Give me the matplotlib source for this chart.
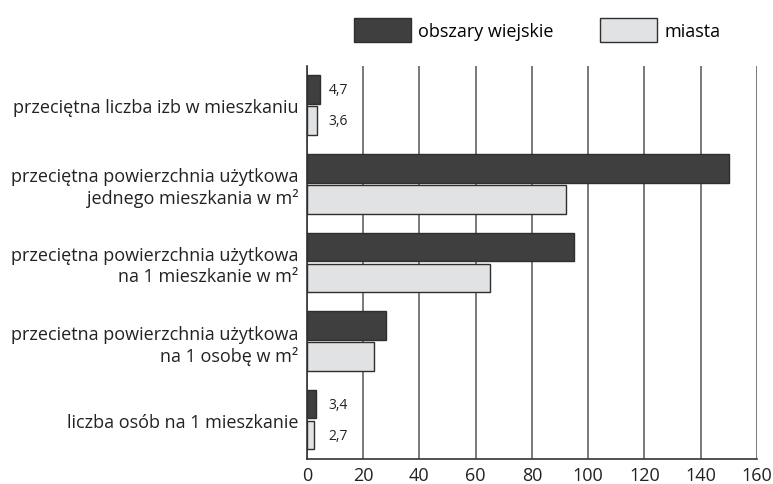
import matplotlib
matplotlib.use("Agg")
import matplotlib.pyplot as plt
from matplotlib.patches import Patch
import numpy as np

# ─── data ─────────────────────────────────────────────────────────
categories = [
    "przeciętna liczba izb w mieszkaniu",
    "przeciętna powierzchnia użytkowa\njednego mieszkania w m²",
    "przeciętna powierzchnia użytkowa\nna 1 mieszkanie w m²",
    "przecietna powierzchnia użytkowa\nna 1 osobę w m²",
    "liczba osób na 1 mieszkanie",
]
rural = [4.7, 150, 95, 28, 3.4]
urban = [3.6, 92, 65, 24, 2.7]
rural_labels = ["4,7", None, None, None, "3,4"]
urban_labels = ["3,6", None, None, None, "2,7"]
series_names = ["obszary wiejskie", "miasta"]
xticks = [0, 20, 40, 60, 80, 100, 120, 140, 160]

DARK = "#3f3f3f"
LIGHT = "#e1e2e4"
EDGE = "#2e2e2e"
LABEL_X = 7.8

plt.rcParams["font.family"] = ["Open Sans", "DejaVu Sans"]

fig = plt.figure(figsize=(7.73, 4.85), dpi=100)
ax = fig.add_axes([0.397, 0.0515, 0.582, 0.8105])

y = np.arange(len(categories))
h = 0.363
off = 0.197

ax.barh(y - off, rural, height=h, color=DARK, edgecolor=EDGE, linewidth=1, zorder=3)
ax.barh(y + off, urban, height=h, color=LIGHT, edgecolor=EDGE, linewidth=1, zorder=3)

for yi, lab in zip(y, rural_labels):
    if lab:
        ax.text(LABEL_X, yi - off, lab, va="center", ha="left", fontsize=10, color="#222222")
for yi, lab in zip(y, urban_labels):
    if lab:
        ax.text(LABEL_X, yi + off, lab, va="center", ha="left", fontsize=10, color="#222222")

ax.set_ylim(len(categories) - 0.5, -0.5)
ax.set_xlim(0, 160)
ax.set_xticks(xticks)
ax.set_yticks(y)
ax.set_yticklabels(categories, fontsize=13, color="#222222", ha="right",
                   linespacing=1.2)
ax.tick_params(axis="both", length=0)
ax.tick_params(axis="x", labelsize=13, pad=5, colors="#222222")
ax.tick_params(axis="y", pad=6)

ax.grid(axis="x", color="#555555", linewidth=1.1, zorder=0)
ax.set_axisbelow(True)
for s in ["top", "right"]:
    ax.spines[s].set_visible(False)
for s in ["left", "bottom"]:
    ax.spines[s].set_color("#333333")
    ax.spines[s].set_linewidth(1.2)

handles = [Patch(facecolor=DARK, edgecolor=EDGE, linewidth=1),
           Patch(facecolor=LIGHT, edgecolor=EDGE, linewidth=1)]
fig.legend(handles, series_names, loc="center", bbox_to_anchor=(0.695, 0.936),
           ncol=2, frameon=False, fontsize=13, handlelength=3.15, handleheight=1.66,
           handletextpad=0.4, columnspacing=2.6, borderpad=0)

fig.savefig("out.png", dpi=100)
